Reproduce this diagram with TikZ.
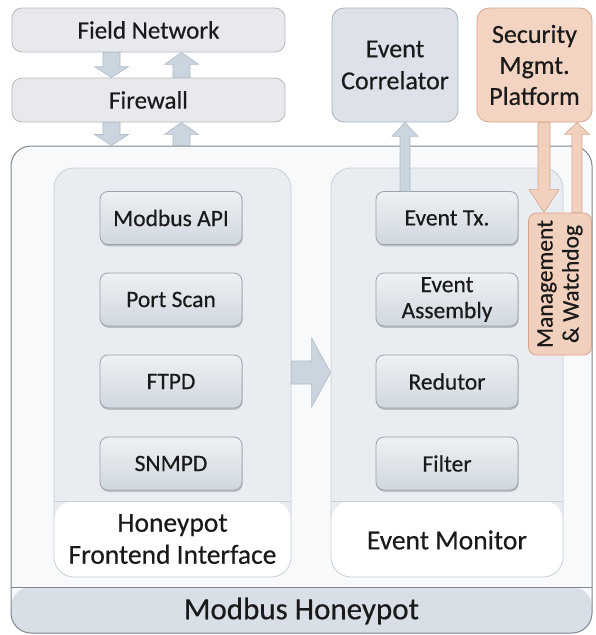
\documentclass[tikz,border=0pt]{standalone}
\usepackage{fontspec}
\setmainfont{Carlito}[FakeBold=0.4]
\usetikzlibrary{calc,shadows}
\definecolor{txt}{HTML}{1A1A1A}
\definecolor{topfill}{HTML}{E7E9EC}
\definecolor{topline}{HTML}{B5B9BF}
\definecolor{ecfill}{HTML}{DDE2EA}
\definecolor{ecline}{HTML}{AAB0BA}
\definecolor{secfill}{HTML}{F3D3C1}
\definecolor{secline}{HTML}{D9A68D}
\definecolor{outfill}{HTML}{F8F9FB}
\definecolor{outline}{HTML}{7F8690}
\definecolor{bandfill}{HTML}{D9DFE7}
\definecolor{panfill}{HTML}{E9EDF2}
\definecolor{panline}{HTML}{C9CFD7}
\definecolor{intop}{HTML}{EEF1F4}
\definecolor{inbot}{HTML}{D0D7DF}
\definecolor{inline}{HTML}{9AA3AD}
\definecolor{arfill}{HTML}{CBD5E0}
\definecolor{arline}{HTML}{B0BAC6}
\definecolor{pafill}{HTML}{F1D1BE}
\definecolor{paline}{HTML}{D6A48B}
\newcommand\vblock[6]{\draw[#1] let \p1=(#2), \p2=(#3), \n1={sign(\y2-\y1)} in
  (\x1-#4pt,\y1) -- (\x1-#4pt,\y2-\n1*#6pt) -- (\x1-#5pt,\y2-\n1*#6pt) -- (\x1,\y2)
  -- (\x1+#5pt,\y2-\n1*#6pt) -- (\x1+#4pt,\y2-\n1*#6pt) -- (\x1+#4pt,\y1) -- cycle;}
\newcommand\hblock[6]{\draw[#1] let \p1=(#2), \p2=(#3), \n1={sign(\x2-\x1)} in
  (\x1,\y1-#4pt) -- (\x2-\n1*#6pt,\y1-#4pt) -- (\x2-\n1*#6pt,\y1-#5pt) -- (\x2,\y1)
  -- (\x2-\n1*#6pt,\y1+#5pt) -- (\x2-\n1*#6pt,\y1+#4pt) -- (\x1,\y1+#4pt) -- cycle;}
\begin{document}
\begin{tikzpicture}[x=1pt,y=-1pt,
  every node/.style={text=txt, align=center, inner sep=0pt},
  topbox/.style={draw=topline, fill=topfill, line width=0.8pt, rounded corners=10pt,
    font=\fontsize{25}{29}\selectfont},
  ecbox/.style={draw=ecline, fill=ecfill, line width=0.8pt, rounded corners=12pt,
    font=\fontsize{26}{32}\selectfont},
  secbox/.style={draw=secline, fill=secfill, line width=0.8pt, rounded corners=12pt,
    font=\fontsize{26}{31}\selectfont},
  outbox/.style={draw=outline, fill=outfill, line width=1pt, rounded corners=20pt},
  panel/.style={draw=panline, fill=panfill, line width=0.8pt, rounded corners=20pt},
  inbox/.style={draw=inline, top color=intop, bottom color=inbot, line width=0.8pt,
    rounded corners=8pt, minimum width=142pt, minimum height=53pt,
    drop shadow={shadow xshift=0.6pt, shadow yshift=-1.8pt, fill=black!45, opacity=0.5},
    font=\fontsize{23.5}{26}\selectfont},
  grayarrow/.style={draw=arline, fill=arfill, line width=0.6pt},
  peacharrow/.style={draw=paline, fill=pafill, line width=0.6pt},
  mwbox/.style={draw=paline, fill=pafill, line width=0.8pt, rounded corners=8pt,
    font=\fontsize{23.5}{26}\selectfont},
  lbl/.style={font=\fontsize{27.5}{32}\selectfont}]
\useasboundingbox (0,0) rectangle (595,635);

% outer honeypot box with bottom band
\node[outbox, minimum width=581pt, minimum height=487pt,
  path picture={\fill[bandfill] (path picture bounding box.south west) rectangle ([yshift=46pt]path picture bounding box.south east);
  \draw[outline, line width=1pt] ([yshift=46pt]path picture bounding box.south west) -- ([yshift=46pt]path picture bounding box.south east);}]
  (hp) at (301.5,389.5) {};
\node[font=\fontsize{31}{35}\selectfont] (hplbl) at (301.5,611) {Modbus Honeypot};

% panels
\node[panel, minimum width=237pt, minimum height=409pt,
  path picture={\fill[white] (path picture bounding box.south west) rectangle ([yshift=76pt]path picture bounding box.south east);
  \draw[panline, line width=0.8pt] ([yshift=76pt]path picture bounding box.south west) -- ([yshift=76pt]path picture bounding box.south east);}]
  (lp) at (172.5,372.5) {};
\node[panel, minimum width=232pt, minimum height=409pt,
  path picture={\fill[white] (path picture bounding box.south west) rectangle ([yshift=76pt]path picture bounding box.south east);
  \draw[panline, line width=0.8pt] ([yshift=76pt]path picture bounding box.south west) -- ([yshift=76pt]path picture bounding box.south east);}]
  (rp) at (447,372.5) {};
\node[lbl] (lplbl) at (172.5,539) {Honeypot\\Frontend Interface};
\node[lbl] (rplbl) at (447,540) {Event Monitor};

% inner boxes
\node[inbox] (mapi) at (171,218) {Modbus API};
\node[inbox] (pscan) at (171,299.5) {Port Scan};
\node[inbox] (ftpd) at (171,381.5) {FTPD};
\node[inbox] (snmpd) at (171,463.5) {SNMPD};
\node[inbox] (etx) at (447,218) {Event Tx.};
\node[inbox] (easm) at (447,299.5) {Event\\Assembly};
\node[inbox] (red) at (447,381.5) {Redutor};
\node[inbox] (filt) at (447,463.5) {Filter};

% big arrow between panels
\hblock{grayarrow}{lp.east}{rp.west}{11.5}{34.5}{19}

% top boxes
\node[topbox, minimum width=273pt, minimum height=44pt] (fn) at (148.5,30) {Field Network};
\node[topbox, minimum width=273pt, minimum height=44pt] (fw) at (148.5,100) {Firewall};
\node[ecbox, minimum width=126pt, minimum height=114pt] (ec) at (395,65) {Event\\Correlator};
\node[secbox, minimum width=115pt, minimum height=114pt] (sec) at (534.5,65) {Security\\Mgmt.\\Platform};

% arrows field network <-> firewall <-> honeypot
\coordinate (a1) at ($(fn.south)+(-37,0)$);
\coordinate (a2) at ($(fn.south)+(33,0)$);
\coordinate (a3) at ($(fw.south)+(-37,0)$);
\coordinate (a4) at ($(fw.south)+(33,0)$);
\vblock{grayarrow}{a1}{a1 |- fw.north}{8.5}{17}{11}
\vblock{grayarrow}{a2 |- fw.north}{a2}{8.5}{17}{12}
\vblock{grayarrow}{a3}{a3 |- hp.north}{8.5}{17}{11}
\vblock{grayarrow}{a4 |- hp.north}{a4}{8.5}{17}{12}

% event tx -> correlator
\coordinate (a5) at ($(etx.north)+(-42,0)$);
\vblock{grayarrow}{a5}{a5 |- ec.south}{5}{13}{14}

% management & watchdog
\node[mwbox, rotate=90, minimum width=142pt, minimum height=63pt] (mw) at (560,284) {Management\\\& Watchdog};
\coordinate (a6) at ($(sec.south)+(9.5,0)$);
\coordinate (a7) at ($(sec.south)+(42.5,0)$);
\vblock{peacharrow}{a6}{a6 |- mw.east}{6}{15}{23}
\vblock{peacharrow}{a7 |- mw.east}{a7}{5}{12.5}{12}
\end{tikzpicture}
\end{document}
